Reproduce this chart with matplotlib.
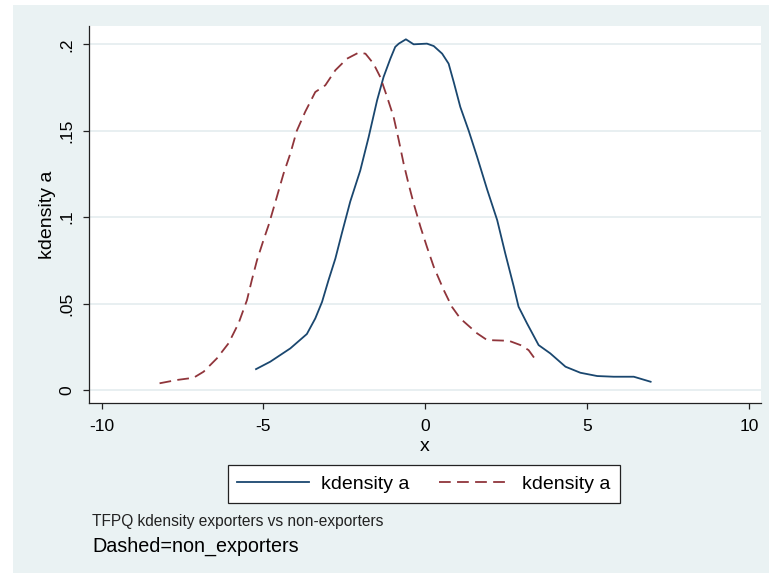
import matplotlib
matplotlib.use("Agg")
import matplotlib.pyplot as plt
from matplotlib.patches import Rectangle
from matplotlib.ticker import FixedLocator, FixedFormatter

plt.rcParams['font.family'] = ['Liberation Sans', 'DejaVu Sans']

# Exporters (solid)
exp_x = [-5.23, -4.79, -4.17, -3.66, -3.40, -3.19, -2.99, -2.78, -2.58, -2.32, -2.01, -1.75,
         -1.49, -1.29, -1.08, -0.93, -0.82, -0.60, -0.36, 0.05, 0.26, 0.52, 0.72, 0.88, 1.08,
         1.34, 1.60, 1.91, 2.22, 2.47, 2.73, 2.88, 3.14, 3.50, 3.86, 4.33, 4.79, 5.31, 5.82,
         6.44, 6.96]
exp_y = [0.0121, 0.0164, 0.0241, 0.0324, 0.0414, 0.0510, 0.0636, 0.0760, 0.0906, 0.1090, 0.1270,
         0.1464, 0.1676, 0.1811, 0.1917, 0.1985, 0.2004, 0.2029, 0.2000, 0.2004, 0.1990, 0.1946,
         0.1888, 0.1780, 0.1638, 0.1500, 0.1349, 0.1160, 0.0983, 0.0790, 0.0600, 0.0482, 0.0386,
         0.0260, 0.0212, 0.0135, 0.0100, 0.0081, 0.0077, 0.0077, 0.0048]

# Non-exporters (dashed)
non_x = [-8.21, -7.68, -7.16, -6.85, -6.44, -6.08, -5.77, -5.51, -5.36, -5.20, -5.00, -4.84,
         -4.64, -4.38, -4.17, -3.97, -3.71, -3.40, -3.09, -2.78, -2.42, -2.06, -1.85, -1.60,
         -1.39, -1.18, -0.98, -0.82, -0.67, -0.52, -0.36, -0.15, 0.05, 0.26, 0.57, 0.82, 1.08,
         1.60, 1.91, 2.58, 2.94, 3.19, 3.45]
non_y = [0.0039, 0.0058, 0.0071, 0.0106, 0.0183, 0.0270, 0.0386, 0.0520, 0.0636, 0.0751, 0.0867,
         0.0955, 0.1083, 0.1252, 0.1368, 0.1500, 0.1610, 0.1724, 0.1763, 0.1850, 0.1917, 0.1952,
         0.1946, 0.1888, 0.1810, 0.1695, 0.1580, 0.1445, 0.1310, 0.1194, 0.1079, 0.0944, 0.0828,
         0.0713, 0.0578, 0.0482, 0.0414, 0.0328, 0.0289, 0.0285, 0.0260, 0.0231, 0.0164]

x_ticks = [-10, -5, 0, 5, 10]
x_tick_labels = ['-10', '-5', '0', '5', '10']
y_ticks = [0, 0.05, 0.1, 0.15, 0.2]
y_tick_labels = ['0', '.05', '.1', '.15', '.2']

legend_labels = ['kdensity a', 'kdensity a']
x_title = 'x'
y_title = 'kdensity a'
note1 = 'TFPQ kdensity exporters vs non-exporters'
note2 = 'Dashed=non_exporters'

W, H = 769, 574
BG = '#eaf2f3'
BLUE = '#1a476f'
RED = '#90353b'

fig = plt.figure(figsize=(W / 100, H / 100), dpi=100)
fig.patch.set_facecolor('white')
fig.patches.append(Rectangle((13 / W, 1 / H), 1 - 13 / W, (573 - 5) / H,
                             transform=fig.transFigure, facecolor=BG, edgecolor='none', zorder=-5))

ax = fig.add_axes([89 / W, (H - 403) / H, (761 - 89) / W, (403 - 26) / H])
ax.set_zorder(2)
ax.set_facecolor('white')

l1, = ax.plot(exp_x, exp_y, color=BLUE, lw=1.3, solid_joinstyle='round')
l2, = ax.plot(non_x, non_y, color=RED, lw=1.3, dashes=(6.5, 3.5))

ax.set_xlim(-10.39, 10.37)
ax.set_ylim(-0.0075, 0.2106)

ax.xaxis.set_major_locator(FixedLocator(x_ticks))
ax.xaxis.set_major_formatter(FixedFormatter(x_tick_labels))
ax.yaxis.set_major_locator(FixedLocator(y_ticks))
ax.yaxis.set_major_formatter(FixedFormatter(y_tick_labels))

ax.grid(axis='y', color='#e6eef0', lw=1.3)
ax.set_axisbelow(True)
for s in ['top', 'right']:
    ax.spines[s].set_visible(False)
for s in ['left', 'bottom']:
    ax.spines[s].set_color('#222222')
    ax.spines[s].set_linewidth(0.9)

ax.tick_params(axis='x', length=4.5, width=0.9, color='#222222', pad=7, labelsize=12.5)
ax.tick_params(axis='y', length=4.5, width=0.9, color='#222222', pad=6, labelsize=12.5,
               labelrotation=90)
for lab in ax.get_yticklabels():
    lab.set_va('center')

fig.text(425 / W, (H - 451) / H, x_title, ha='center', va='baseline', fontsize=14)
fig.text(52 / W, (H - 214.5) / H, y_title, ha='center', va='baseline', rotation=90,
         rotation_mode='anchor', fontsize=14)

leg = fig.legend([l1, l2], legend_labels, loc='center', bbox_to_anchor=(424 / W, (H - 484) / H),
                 ncol=2, fontsize=14, frameon=True, fancybox=False, handlelength=3.7,
                 handletextpad=0.6, columnspacing=1.5, borderpad=0.5)
leg.get_frame().set_edgecolor('#222222')
leg.get_frame().set_linewidth(0.9)
leg.get_frame().set_facecolor('white')
leg.get_frame().set_alpha(1)

fig.text(92.5 / W, (H - 526) / H, note1, ha='left', va='baseline', fontsize=11.2, color='#222222')
fig.text(92.5 / W, (H - 551.7) / H, note2, ha='left', va='baseline', fontsize=14.2, color='black')

fig.savefig('out.png', dpi=100)
